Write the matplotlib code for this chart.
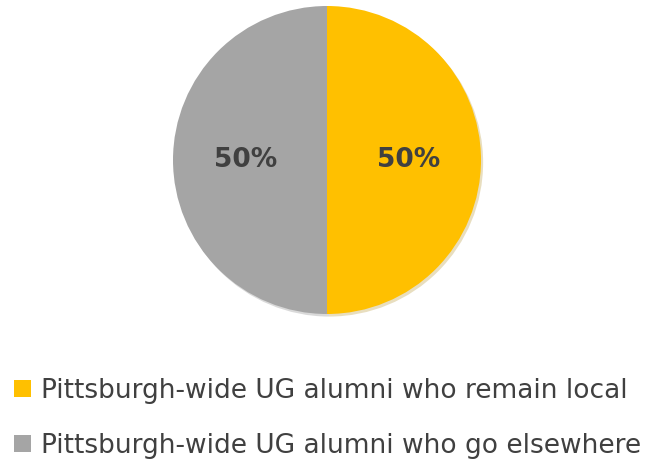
import matplotlib
matplotlib.use('Agg')
import matplotlib.pyplot as plt

# alumni split, percent
labels = ['Pittsburgh-wide UG alumni who remain local',
          'Pittsburgh-wide UG alumni who go elsewhere']
shares = [50, 50]
colors = ['#FFC000', '#A5A5A5']

text_color = '#404040'

fig = plt.figure(figsize=(6.54, 4.62), dpi=100)

# pie centred at (327, 160) px, radius ~154 px
cx, cy, r = 327, 160, 154
ax = fig.add_axes([(cx - r) / 654, (462 - cy - r) / 462, 2 * r / 654, 2 * r / 462])
wedges, texts, autotexts = ax.pie(
    shares, colors=colors, startangle=90, counterclock=False,
    autopct='%1.0f%%', pctdistance=0.53, radius=1.0,
    wedgeprops=dict(linewidth=0),
    shadow=dict(ox=0.01, oy=-0.012, shade=0.35, alpha=0.25),
    textprops=dict(color=text_color, fontsize=19, fontweight='bold'))
ax.set_xlim(-1, 1)
ax.set_ylim(-1, 1)
ax.set_aspect('equal')
ax.axis('off')

leg = fig.legend(wedges, labels, loc='upper left',
                 bbox_to_anchor=(14 / 654, 1 - 378 / 462),
                 frameon=False, borderpad=0, borderaxespad=0,
                 handlelength=0.64, handleheight=0.64, handletextpad=0.4,
                 labelspacing=1.1, prop=dict(size=19))
for t in leg.get_texts():
    t.set_color(text_color)

fig.savefig('out.png', dpi=100)
